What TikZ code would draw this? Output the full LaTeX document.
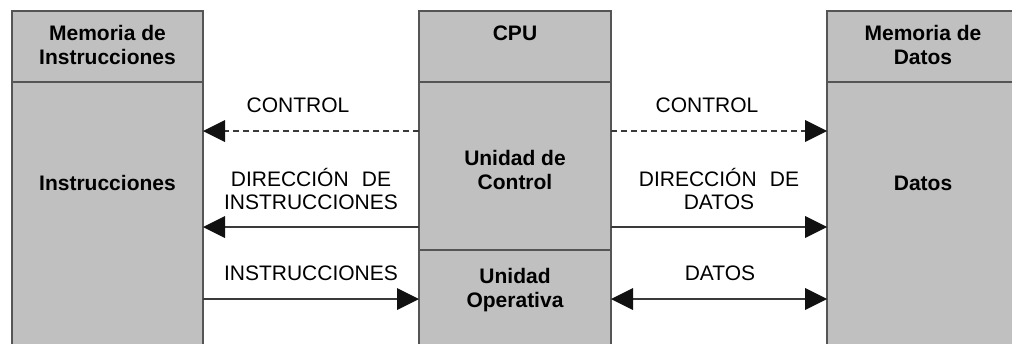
\documentclass[tikz,border=0pt]{standalone}
\usepackage{fontspec}
\setmainfont{Liberation Sans}
\usetikzlibrary{arrows.meta}
\definecolor{boxfill}{HTML}{C0C0C0}
\definecolor{boxline}{HTML}{555555}
\definecolor{wire}{HTML}{3A3A3A}
\definecolor{tipcol}{HTML}{111111}
\begin{document}
\begin{tikzpicture}[x=1pt,y=-1pt,
  blk/.style={draw=boxline,line width=2pt,fill=boxfill,inner sep=0pt},
  btxt/.style={font=\fontsize{21}{24}\selectfont\bfseries,align=center,inner sep=0pt},
  ltxt/.style={font=\fontsize{21}{23}\selectfont,align=center,inner sep=0pt},
  tipA/.tip={Triangle[length=22pt,width=22pt,color=tipcol,line width=0pt]},
  link/.style={draw=wire,line width=1.8pt,-tipA},
  linkb/.style={draw=wire,line width=1.8pt,tipA-tipA},
  ctlline/.style={dash pattern=on 6pt off 4pt}]
\clip (0,0) rectangle (1012,343);
\fill[white] (0,0) rectangle (1012,343);

% Memoria de instrucciones
\path[blk] (12,82) rectangle (203,370);
\path[blk] (12,11) rectangle (203,82);
\node[btxt] (mihead) at (107.5,45) {Memoria de\\Instrucciones};
\node[btxt] (mibody) at (107.5,183) {Instrucciones};
\coordinate (miE) at (203,0);

% CPU
\path[blk] (419,250) rectangle (611,370);
\path[blk] (419,82) rectangle (611,250);
\path[blk] (419,11) rectangle (611,82);
\node[btxt] (cpuhead) at (515,33) {CPU};
\node[btxt] (uc) at (515,169.5) {Unidad de\\Control};
\node[btxt] (uo) at (515,290.5) {Unidad\\Operativa};
\coordinate (cpuW) at (419,0);
\coordinate (cpuE) at (611,0);

% Memoria de datos
\path[blk] (827,82) rectangle (1022,370);
\path[blk] (827,11) rectangle (1022,82);
\node[btxt] (mdhead) at (923,45) {Memoria de\\Datos};
\node[btxt] (mdbody) at (923,183) {Datos};
\coordinate (mdW) at (827,0);

% niveles de las conexiones
\coordinate (yctl) at (0,131);
\coordinate (ydir) at (0,227);
\coordinate (ydat) at (0,299);

% conexiones lado instrucciones
\draw[link,ctlline] (cpuW |- yctl) -- (miE |- yctl);
\draw[link] (cpuW |- ydir) -- (miE |- ydir);
\draw[link] (miE |- ydat) -- (cpuW |- ydat);

% conexiones lado datos
\draw[link,ctlline] (cpuE |- yctl) -- (mdW |- yctl);
\draw[link] (cpuE |- ydir) -- (mdW |- ydir);
\draw[linkb] (cpuE |- ydat) -- (mdW |- ydat);

% rótulos
\node[ltxt] (lctl1) at (298,105) {CONTROL};
\node[ltxt] (ldir1) at (311,189) {DIRECCIÓN\hspace{0.35em} DE\\INSTRUCCIONES};
\node[ltxt] (lins) at (311,273) {INSTRUCCIONES};
\node[ltxt] (lctl2) at (707,105) {CONTROL};
\node[ltxt] (ldir2) at (719,189) {DIRECCIÓN\hspace{0.35em} DE\\DATOS};
\node[ltxt] (ldat) at (720,273) {DATOS};
\end{tikzpicture}
\end{document}
